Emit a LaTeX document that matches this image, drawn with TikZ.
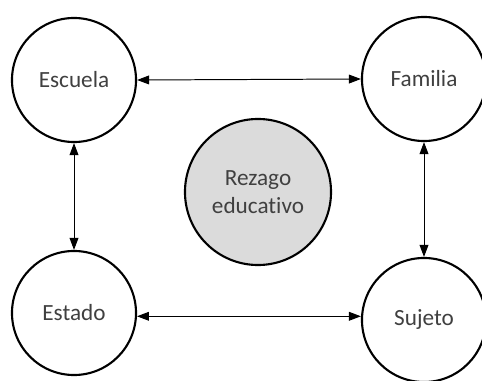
\documentclass[tikz,border=0pt]{standalone}
\usepackage{fontspec}
\setmainfont{Carlito}[Ligatures=NoCommon]
\usetikzlibrary{arrows.meta}

\begin{document}
\begin{tikzpicture}[
        x=0.025cm, y=-0.025cm,
        actor/.style={circle, draw=black, line width=1.5pt, fill=white, minimum size=3.1cm, inner sep=0pt, text=black!75, align=center, font=\fontsize{16.5}{19.5}\selectfont},
        arrow/.style={{Triangle[length=3mm,width=2.2mm]}-{Triangle[length=3mm,width=2.2mm]}, line width=0.7pt}
    ]
    \useasboundingbox (0,0) rectangle (482,381);
    
    \node[actor] (escuela) at (74,80) {Escuela};
    \node[actor] (familia) at (424,79) {Familia};
    \node[actor, fill=black!14, minimum size=3.65cm] (rezago) at (258,192) {Rezago\\educativo};
    \node[actor] (estado) at (74,313) {Estado};
    \node[actor] (sujeto) at (424,320) {Sujeto};
    
    \draw[arrow] (escuela.east) -- (familia.west);
    \draw[arrow] (escuela.south) -- (estado.north);
    \draw[arrow] (familia.south) -- (sujeto.north);
    \draw[arrow] (estado.-3) -- (estado.-3 -| sujeto.west);
    
\end{tikzpicture}
\end{document}
